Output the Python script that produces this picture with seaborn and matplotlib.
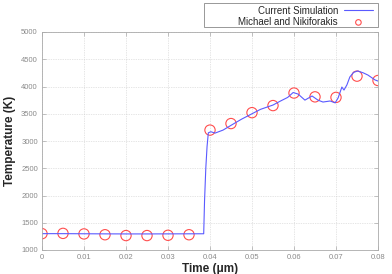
import matplotlib
matplotlib.use("Agg")
import matplotlib.pyplot as plt
import matplotlib.patches as mpatches
import seaborn as sns
import pandas as pd
import numpy as np

sns.set_theme(style="white")
plt.rcParams['font.family'] = ['Liberation Sans', 'DejaVu Sans']

# Current simulation (line)
sim_t = [0.0, 0.005, 0.01, 0.015, 0.02, 0.025, 0.03, 0.035, 0.0385, 0.0387, 0.0390,
         0.0393, 0.0396, 0.0402, 0.0412, 0.0431, 0.0455, 0.0475, 0.0495, 0.052, 0.055,
         0.0567, 0.0585, 0.0598, 0.0610, 0.0626, 0.0643, 0.0657, 0.0669, 0.0686, 0.0698,
         0.0705, 0.0714, 0.0719, 0.0726, 0.0733, 0.0742, 0.0752, 0.0765, 0.0776, 0.0793,
         0.0800]
sim_T = [1300, 1300, 1298, 1296, 1295, 1295, 1296, 1297, 1298, 1900, 2500,
         2900, 3150, 3170, 3145, 3200, 3310, 3400, 3480, 3580, 3660,
         3730, 3800, 3890, 3860, 3750, 3826, 3750, 3715, 3734, 3700,
         3790, 3990, 3935, 4030, 4175, 4260, 4285, 4250, 4210, 4120,
         4100]

# Michael and Nikiforakis (markers)
ref_t = [0.0, 0.005, 0.01, 0.015, 0.02, 0.025, 0.03, 0.035,
         0.04, 0.045, 0.05, 0.055, 0.06, 0.065, 0.07, 0.075, 0.08]
ref_T = [1300, 1305, 1295, 1280, 1265, 1265, 1270, 1280,
         3200, 3320, 3520, 3650, 3880, 3810, 3800, 4190, 4110]

sim = pd.DataFrame({"t": sim_t, "T": sim_T})
ref = pd.DataFrame({"t": ref_t, "T": ref_T})

W, H = 392, 274
fig = plt.figure(figsize=(W/100, H/100), dpi=100)
ax = fig.add_axes([42/W, 1-250/H, 336/W, 218/H])

sns.lineplot(data=sim, x="t", y="T", ax=ax, color="#5a5aff", linewidth=0.8,
             label="Current Simulation")
sns.scatterplot(data=ref, x="t", y="T", ax=ax, marker="o", s=55,
                facecolor="none", edgecolor="#ff4d4d", linewidth=0.8,
                label="Michael and Nikiforakis")

ax.set_xlim(0, 0.08)
ax.set_ylim(1000, 5000)
ax.set_xticks(np.arange(0, 0.0801, 0.01))
ax.set_xticklabels(["0", "0.01", "0.02", "0.03", "0.04", "0.05", "0.06", "0.07", "0.08"])
ax.set_yticks(np.arange(1000, 5001, 500))
ax.tick_params(axis="both", direction="in", labelsize=5.5, labelcolor="#8a8a8a",
               color="#aaaaaa", length=3, width=0.5, top=True, right=True,
               bottom=True, left=True, pad=3)
ax.grid(True, color="#cccccc", linestyle=(0, (1, 1.5)), linewidth=0.5)
for s in ax.spines.values():
    s.set_color("#aaaaaa")
    s.set_linewidth(0.6)

ax.set_xlabel("Time (\u03bcm)", fontsize=8.5, fontweight="bold", labelpad=1)
ax.set_ylabel("Temperature (K)", fontsize=8.5, fontweight="bold", labelpad=4)

leg = ax.legend(loc="upper right", bbox_to_anchor=(373/W, 1-5.5/H),
                bbox_transform=fig.transFigure, frameon=False,
                fontsize=7, markerfirst=False,
                borderpad=0, labelspacing=0.15, handlelength=3.0,
                handletextpad=0.6, borderaxespad=0)
for h in leg.legend_handles[1:]:
    try:
        h.set_sizes([16])
    except Exception:
        pass

# legend frame
fig.patches.append(mpatches.Rectangle((204/W, 1-27/H), 174/W, 24/H,
                                      transform=fig.transFigure, fill=False,
                                      edgecolor="#888888", linewidth=0.6))

fig.savefig("out.png", dpi=100)
